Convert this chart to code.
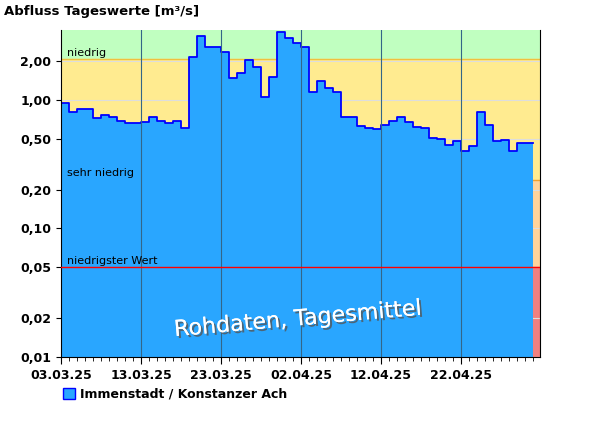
import numpy as np, pandas as pd, seaborn as sns
import matplotlib
matplotlib.use("Agg")
import matplotlib.pyplot as plt
import matplotlib.dates as mdates
import matplotlib.patheffects as pe
from matplotlib.ticker import FixedLocator, NullFormatter, NullLocator
from matplotlib.patches import Patch

start = "2025-03-03"
values = [0.94,0.80,0.85,0.85,0.72,0.77,0.73,0.69,0.66,0.66,
          0.67,0.73,0.68,0.66,0.69,0.61,2.14,3.13,2.60,2.56,
          2.38,1.47,1.62,2.04,1.79,1.06,1.52,3.35,3.01,2.75,
          2.56,1.16,1.41,1.23,1.16,0.74,0.74,0.63,0.60,0.59,
          0.64,0.68,0.73,0.67,0.62,0.61,0.51,0.50,0.45,0.48,
          0.40,0.44,0.80,0.64,0.48,0.49,0.40,0.46,0.46]
y_ticks = [0.01,0.02,0.05,0.10,0.20,0.50,1.00,2.00]
y_labels = ["0,01","0,02","0,05","0,10","0,20","0,50","1,00","2,00"]
thr_niedrig, thr_sehr, thr_min = 2.07, 0.24, 0.05
ymin, ymax = 0.01, 3.5
series = "Immenstadt / Konstanzer Ach"
watermark = "Rohdaten, Tagesmittel"

dates = pd.date_range(start, periods=len(values)+1, freq="D")
df = pd.DataFrame({"date": dates, "q": values + [values[-1]]})

fig = plt.figure(figsize=(6, 4.26), dpi=100)
ax = fig.add_axes([61/600, 1-357/426, 479/600, 327/426])
x0, x1 = pd.Timestamp(start), pd.Timestamp(start) + pd.Timedelta(days=59.9)

ax.axhspan(thr_niedrig, ymax, color="#c0ffc0", zorder=0)
ax.axhspan(thr_sehr, thr_niedrig, color="#ffeb90", zorder=0)
ax.axhspan(thr_min, thr_sehr, color="#ffd39b", zorder=0)
ax.axhspan(ymin, thr_min, color="#f08080", zorder=0)
for t in y_ticks:
    ax.axhline(t, color="#dddddd", lw=0.8, zorder=0.5)
ax.axhline(thr_niedrig, color="#f0c040", lw=1, zorder=0.6)
ax.axhline(thr_sehr, color="#f0a030", lw=1, zorder=0.6)

ax.fill_between(df["date"], df["q"], ymin, step="post", color="#29a6ff", lw=0, zorder=1)
sns.lineplot(data=df, x="date", y="q", drawstyle="steps-post", color="#0000ff", lw=1.3, ax=ax, zorder=2)
ax.axhline(thr_min, color="#ff0000", lw=1, zorder=3)

ax.set_yscale("log")
ax.set_ylim(ymin, ymax)
ax.set_xlim(x0, x1)
ax.yaxis.set_major_locator(FixedLocator(y_ticks))
ax.set_yticklabels(y_labels, fontweight="bold", fontsize=9)
ax.yaxis.set_minor_locator(NullLocator())
major = pd.date_range(start, periods=6, freq="10D")
ax.xaxis.set_major_locator(FixedLocator(mdates.date2num(major)))
ax.set_xticklabels([d.strftime("%d.%m.%y") for d in major], fontweight="bold", fontsize=9)
ax.xaxis.set_minor_locator(FixedLocator(mdates.date2num(pd.date_range(start, periods=60, freq="D"))))
ax.tick_params(axis="x", which="minor", length=3)
ax.tick_params(axis="x", which="major", length=5)
for d in major[1:]:
    ax.axvline(d, color="#336688", lw=0.8, zorder=2.5)
ax.set_xlabel(""); ax.set_ylabel("")
ax.spines["top"].set_visible(False)

ax.text(0, 1.03, "", transform=ax.transAxes)
fig.text(4/600, 1-12/426, "Abfluss Tageswerte [m³/s]", fontweight="bold", fontsize=9.5, va="center")
ax.text(0.012, thr_niedrig*1.02, "niedrig", transform=ax.get_yaxis_transform(), fontsize=8, va="bottom", zorder=4)
ax.text(0.012, thr_sehr*1.02, "sehr niedrig", transform=ax.get_yaxis_transform(), fontsize=8, va="bottom", zorder=4)
ax.text(0.012, thr_min*1.02, "niedrigster Wert", transform=ax.get_yaxis_transform(), fontsize=8, va="bottom", zorder=4)
ax.text(0.495, 0.115, watermark, transform=ax.transAxes, fontsize=16, color="white", rotation=5,
        ha="center", va="center", zorder=5,
        path_effects=[pe.withSimplePatchShadow(offset=(1.5, -1.5), shadow_rgbFace="#555555", alpha=0.8), pe.Normal()])

fig.legend(handles=[Patch(facecolor="#29a6ff", edgecolor="#0000ff", label=series)],
           loc="lower left", bbox_to_anchor=(52/600, 1-412/426), frameon=False,
           prop={"weight": "bold", "size": 9}, handlelength=0.9, handleheight=0.9, handletextpad=0.4)
fig.savefig("out.png", dpi=100)
